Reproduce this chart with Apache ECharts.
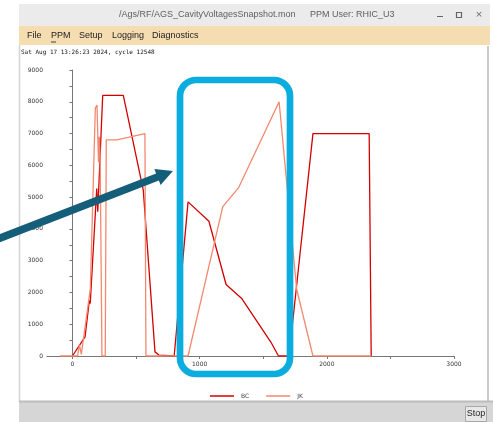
<!DOCTYPE html>
<html>
<head>
<meta charset="utf-8">
<script src="https://cdn.jsdelivr.net/npm/echarts@6/dist/echarts.min.js"></script>
<style>
html,body{margin:0;padding:0;background:#fff;}
#c{width:493px;height:422px;}
</style>
</head>
<body>
<div id="c"></div>
<script>
// ---- data ----
const seriesNames = ['BC', 'JK'];
const bcX = [0, 99, 133, 140, 191, 199, 238, 400, 557, 649, 680, 800, 909, 1073, 1208, 1333, 1560, 1620, 1703, 1891, 2333, 2349];
const bcY = [0, 600, 1750, 1650, 5270, 4540, 8200, 8200, 5220, 130, 30, 0, 4850, 4240, 2250, 1800, 440, 0, 0, 7000, 7000, 0];
const jkX = [-100, 40, 55, 70, 141, 180, 193, 205, 211, 218, 232, 258, 266, 349, 570, 578, 909, 1182, 1307, 1625, 1638, 1763, 1891, 2349];
const jkY = [0, 0, 350, 50, 2130, 7800, 7900, 6100, 6900, 6200, 0, 0, 6800, 6800, 7000, 0, 0, 4700, 5300, 8000, 8000, 2100, 0, 0];
const xTicks = [0, 500, 1000, 1500, 2000, 2500, 3000];
const xLabels = [0, 1000, 2000, 3000];
const yTicks = [0, 500, 1000, 1500, 2000, 2500, 3000, 3500, 4000, 4500, 5000, 5500, 6000, 6500, 7000, 7500, 8000, 8500, 9000];
const yLabels = [0, 1000, 2000, 3000, 4000, 5000, 6000, 7000, 8000, 9000];
const windowTitle = '/Ags/RF/AGS_CavityVoltagesSnapshot.mon';
const userText = 'PPM User: RHIC_U3';
const menuItems = ['File', 'PPM', 'Setup', 'Logging', 'Diagnostics'];
const stampText = 'Sat Aug 17 13:26:23 2024, cycle 12548';

const zip = (xs, ys) => xs.map((x, i) => [x, ys[i]]);

// ---- chrome / overlay graphics ----
const menuX = [27, 51, 79, 112, 152];
const g = [];
// title bar
g.push({type:'rect', z:-5, shape:{x:19, y:4, width:471, height:22}, style:{fill:'#ebebeb'}});
g.push({type:'text', z:-4, x:119, y:15, style:{text:windowTitle, font:'9px "Liberation Sans"', fill:'#5f5f5f', textVerticalAlign:'middle'}});
g.push({type:'text', z:-4, x:310, y:15, style:{text:userText, font:'9px "Liberation Sans"', fill:'#5f5f5f', textVerticalAlign:'middle'}});
g.push({type:'line', z:-4, shape:{x1:437, y1:16.5, x2:443, y2:16.5}, style:{stroke:'#666', lineWidth:1}});
g.push({type:'rect', z:-4, shape:{x:456.5, y:12.5, width:5, height:5}, style:{fill:'none', stroke:'#666', lineWidth:1.2}});
g.push({type:'text', z:-4, x:479, y:15, style:{text:'×', font:'9px "DejaVu Sans"', fill:'#666', textAlign:'center', textVerticalAlign:'middle'}});
// menu bar
g.push({type:'rect', z:-5, shape:{x:19, y:26, width:471, height:19}, style:{fill:'#f5dcb1'}});
menuItems.forEach((m, i) => {
  g.push({type:'text', z:-4, x:menuX[i], y:35.5, style:{text:m, font:'9px "Liberation Sans"', fill:'#222', textVerticalAlign:'middle'}});
});
g.push({type:'line', z:-4, shape:{x1:51, y1:42, x2:56, y2:42}, style:{stroke:'#444', lineWidth:1}});
// borders of content
g.push({type:'line', z:-4, shape:{x1:19.5, y1:45, x2:19.5, y2:402}, style:{stroke:'#d4d4d4', lineWidth:1.5}});
g.push({type:'line', z:-4, shape:{x1:488, y1:46, x2:488, y2:402}, style:{stroke:'#b8b8b8', lineWidth:1.5}});
// bottom bar
g.push({type:'rect', z:-5, shape:{x:19, y:401, width:474, height:21}, style:{fill:'#d6d6d6'}});
g.push({type:'line', z:-4, shape:{x1:19, y1:401.5, x2:493, y2:401.5}, style:{stroke:'#bcbcbc', lineWidth:2}});
g.push({type:'rect', z:-4, shape:{x:465.5, y:406.5, width:21, height:15}, style:{fill:'#e8e8e8', stroke:'#a8a8a8', lineWidth:1}});
g.push({type:'text', z:-3, x:476, y:414, style:{text:'Stop', font:'9px "Liberation Sans"', fill:'#222', textAlign:'center', textVerticalAlign:'middle'}});
// timestamp
g.push({type:'text', z:-4, x:21, y:52, style:{text:stampText, font:'6px "DejaVu Sans Mono"', fill:'#111', textVerticalAlign:'middle'}});
// annotation: blue rounded box
g.push({type:'rect', z:100, shape:{x:180, y:80, width:110, height:294, r:16}, style:{fill:'none', stroke:'#0badde', lineWidth:6.7}});
// annotation: arrow
g.push({type:'polygon', z:100, shape:{points:[[-11.4,238.5],[156.1,173.5],[154.4,168.9],[172.9,171],[160.6,185.1],[158.9,180.5],[-8.6,245.5]]}, style:{fill:'#155e7a'}});

const plain = v => String(v);
const option = {
  backgroundColor: '#ffffff',
  animation: false,
  textStyle: {fontFamily: 'DejaVu Sans'},
  grid: {left: 47, right: 39, top: 70, bottom: 66, containLabel: false},
  legend: {
    data: seriesNames,
    left: 205, top: 388,
    icon: 'rect', itemWidth: 24, itemHeight: 1.5, itemGap: 17,
    textStyle: {fontSize: 6, color: '#444', padding: [0, 0, 0, 2]}
  },
  xAxis: {
    type: 'value', min: -200, max: 3000,
    axisLine: {show: true, onZero: true, lineStyle: {color: '#777', width: 1}},
    axisTick: {show: true, customValues: xTicks, length: 3, lineStyle: {color: '#777'}},
    axisLabel: {customValues: xLabels, formatter: plain, fontSize: 6, color: '#333', margin: 5},
    splitLine: {show: false}
  },
  yAxis: {
    type: 'value', min: 0, max: 9000,
    axisLine: {show: true, onZero: true, lineStyle: {color: '#777', width: 1}},
    axisTick: {show: true, customValues: yTicks, length: 3, lineStyle: {color: '#777'}},
    axisLabel: {customValues: yLabels, formatter: plain, fontSize: 6, color: '#333', margin: 4},
    splitLine: {show: false}
  },
  series: [
    {name: seriesNames[0], type: 'line', data: zip(bcX, bcY), showSymbol: false, color: '#d40000', lineStyle: {width: 1.3, color: '#d40000'}, z: 3},
    {name: seriesNames[1], type: 'line', data: zip(jkX, jkY), showSymbol: false, color: '#f2896f', lineStyle: {width: 1.3, color: '#f2896f'}, z: 4}
  ],
  graphic: {elements: g}
};
const chart = echarts.init(document.getElementById('c'), null, {renderer: 'canvas'});
chart.setOption(option);
</script>
</body>
</html>
